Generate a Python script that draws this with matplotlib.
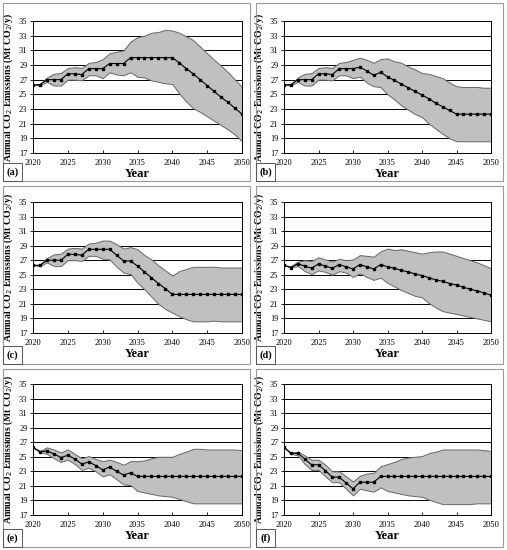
import numpy as np
import matplotlib.pyplot as plt
from matplotlib.patches import Rectangle

years = np.arange(2020, 2051)

mid_a = [26.3, 26.3, 27.0, 27.0, 27.0, 27.8, 27.8, 27.7, 28.5, 28.5, 28.5, 29.2, 29.2, 29.2, 30.0, 30.0,
         30.0, 30.0, 30.0, 30.0, 30.0, 29.3, 28.5, 27.8, 27.0, 26.2, 25.4, 24.6, 23.9, 23.1, 22.3]
up_a = [26.3, 26.4, 27.3, 27.8, 27.9, 28.6, 28.7, 28.6, 29.3, 29.4, 29.8, 30.6, 30.8, 31.0, 32.2, 32.8,
        33.0, 33.4, 33.5, 33.8, 33.7, 33.4, 32.9, 32.4, 31.5, 30.6, 29.7, 28.9, 28.0, 27.0, 26.0]
lo_a = [26.3, 26.2, 26.7, 26.2, 26.2, 27.0, 27.0, 26.9, 27.6, 27.6, 27.2, 28.0, 27.7, 27.6, 28.0, 27.4,
        27.3, 26.9, 26.7, 26.5, 26.4, 25.1, 24.0, 23.1, 22.6, 22.0, 21.4, 20.8, 20.2, 19.5, 18.6]

mid_b = [26.3, 26.3, 27.0, 27.0, 27.0, 27.8, 27.8, 27.7, 28.5, 28.5, 28.5, 28.7, 28.2, 27.6, 28.0, 27.4,
         26.9, 26.4, 25.9, 25.4, 24.9, 24.4, 23.8, 23.3, 22.8, 22.3, 22.3, 22.3, 22.3, 22.3, 22.3]
up_b = [26.3, 26.4, 27.3, 27.8, 27.9, 28.6, 28.7, 28.6, 29.3, 29.4, 29.7, 30.0, 29.7, 29.3, 29.8, 29.9,
        29.5, 29.3, 28.8, 28.4, 27.9, 27.8, 27.5, 27.2, 26.6, 26.1, 26.0, 26.0, 26.0, 25.9, 25.9]
lo_b = [26.3, 26.2, 26.7, 26.2, 26.2, 27.0, 27.0, 26.9, 27.6, 27.6, 27.2, 27.4, 26.6, 26.1, 26.0, 25.0,
        24.3, 23.5, 22.9, 22.3, 21.9, 21.0, 20.3, 19.6, 19.0, 18.6, 18.6, 18.6, 18.6, 18.6, 18.6]

mid_c = [26.3, 26.3, 27.0, 27.0, 27.0, 27.8, 27.8, 27.7, 28.5, 28.5, 28.5, 28.5, 27.7, 26.9, 26.9, 26.2,
         25.4, 24.6, 23.8, 23.1, 22.3, 22.3, 22.3, 22.3, 22.3, 22.3, 22.3, 22.3, 22.3, 22.3, 22.3]
up_c = [26.3, 26.4, 27.3, 27.8, 27.9, 28.6, 28.7, 28.6, 29.3, 29.4, 29.7, 29.7, 29.2, 28.6, 28.8, 28.5,
        27.7, 27.1, 26.3, 25.6, 24.9, 25.5, 25.8, 26.1, 26.1, 26.1, 26.1, 26.0, 26.0, 26.0, 26.0]
lo_c = [26.3, 26.2, 26.7, 26.2, 26.2, 27.0, 27.0, 26.9, 27.6, 27.6, 27.2, 27.1, 26.1, 25.3, 25.1, 23.9,
        23.0, 22.0, 21.0, 20.3, 19.8, 19.3, 18.9, 18.6, 18.6, 18.6, 18.7, 18.6, 18.6, 18.6, 18.6]

mid_d = [26.3, 26.0, 26.5, 26.2, 25.9, 26.5, 26.2, 25.9, 26.4, 26.1, 25.8, 26.4, 26.1, 25.8, 26.4, 26.1,
         25.9, 25.6, 25.4, 25.1, 24.9, 24.6, 24.3, 24.1, 23.8, 23.6, 23.3, 23.0, 22.8, 22.5, 22.2]
up_d = [26.3, 26.2, 26.8, 27.0, 26.9, 27.4, 27.1, 26.8, 27.2, 27.0, 27.1, 27.7, 27.6, 27.5, 28.2, 28.6,
        28.4, 28.5, 28.3, 28.1, 27.9, 28.1, 28.2, 28.2, 27.9, 27.6, 27.3, 27.0, 26.7, 26.3, 25.9]
lo_d = [26.3, 26.0, 26.2, 25.5, 25.1, 25.6, 25.4, 25.0, 25.5, 25.3, 24.7, 25.2, 24.7, 24.3, 24.6, 23.9,
        23.4, 22.9, 22.5, 22.1, 21.9, 21.1, 20.5, 20.0, 19.8, 19.6, 19.4, 19.2, 19.0, 18.8, 18.6]

mid_e = [26.3, 25.7, 25.8, 25.4, 24.9, 25.2, 24.7, 24.0, 24.3, 23.8, 23.2, 23.6, 23.0, 22.5, 22.8, 22.3,
         22.3, 22.3, 22.3, 22.3, 22.3, 22.3, 22.3, 22.3, 22.3, 22.3, 22.3, 22.3, 22.3, 22.3, 22.3]
up_e = [26.3, 25.8, 26.3, 26.0, 25.6, 26.0, 25.4, 24.8, 25.1, 24.7, 24.4, 24.6, 24.3, 23.9, 24.4, 24.4,
        24.5, 24.8, 25.0, 25.0, 25.0, 25.4, 25.7, 26.1, 26.1, 26.0, 26.0, 26.0, 26.0, 26.0, 25.9]
lo_e = [26.3, 25.6, 25.4, 24.8, 24.3, 24.6, 24.0, 23.2, 23.5, 23.0, 22.3, 22.6, 21.9, 21.2, 21.1, 20.3,
        20.1, 19.9, 19.7, 19.6, 19.5, 19.2, 18.9, 18.6, 18.6, 18.6, 18.6, 18.6, 18.6, 18.6, 18.6]

mid_f = [26.3, 25.5, 25.5, 24.7, 23.9, 23.9, 23.1, 22.2, 22.2, 21.4, 20.6, 21.5, 21.5, 21.5, 22.3, 22.3,
         22.3, 22.3, 22.3, 22.3, 22.3, 22.3, 22.3, 22.3, 22.3, 22.3, 22.3, 22.3, 22.3, 22.3, 22.3]
up_f = [26.3, 25.5, 25.7, 25.2, 24.6, 24.6, 23.9, 23.0, 23.0, 22.3, 21.6, 22.4, 22.7, 22.8, 23.7, 24.0,
        24.3, 24.7, 24.9, 25.0, 25.1, 25.5, 25.7, 26.0, 26.0, 26.0, 26.0, 26.0, 26.0, 25.9, 25.8]
lo_f = [26.3, 25.4, 25.2, 24.0, 23.2, 23.2, 22.3, 21.5, 21.5, 20.6, 19.7, 20.6, 20.4, 20.2, 20.8, 20.3,
        20.1, 19.9, 19.7, 19.6, 19.5, 19.1, 18.8, 18.5, 18.5, 18.5, 18.5, 18.5, 18.6, 18.6, 18.6]

labels = ['(a)', '(b)', '(c)', '(d)', '(e)', '(f)']
mids = [mid_a, mid_b, mid_c, mid_d, mid_e, mid_f]
ups = [up_a, up_b, up_c, up_d, up_e, up_f]
los = [lo_a, lo_b, lo_c, lo_d, lo_e, lo_f]

yticks = list(range(17, 36, 2))
xticks = list(range(2020, 2051, 5))

W, H = 507, 550
plt.rcParams['font.family'] = ['Liberation Serif', 'DejaVu Serif']
fig = plt.figure(figsize=(W / 100, H / 100), dpi=100)

ax_left = [33, 284]
ax_right = [242, 491]
ax_top = [21, 202, 384]
ax_bot = [153, 333, 515]
pan_x = [3, 256]
pan_y = [3, 186, 369]
pan_w, pan_h = 247, 178

for i in range(6):
    r, c = divmod(i, 2)
    # panel frame
    fig.patches.append(Rectangle((pan_x[c] / W, 1 - (pan_y[r] + pan_h) / H), pan_w / W, pan_h / H,
                                 transform=fig.transFigure, fill=False, edgecolor='#999999', lw=0.8))
    # label box
    bx, by = pan_x[c], pan_y[r] + pan_h - 18
    fig.patches.append(Rectangle((bx / W, 1 - (by + 18) / H), 19 / W, 18 / H,
                                 transform=fig.transFigure, fill=False, edgecolor='#555555', lw=0.7))
    fig.text((bx + 9.5) / W, 1 - (by + 9) / H, labels[i], ha='center', va='center',
             fontsize=7.5, fontweight='bold')

    l, rr = ax_left[c], ax_right[c]
    t, b = ax_top[r], ax_bot[r]
    ax = fig.add_axes([l / W, 1 - b / H, (rr - l) / W, (b - t) / H])
    ax.fill_between(years, los[i], ups[i], facecolor='#c0c0c0', edgecolor='#666666', lw=0.7, zorder=2)
    ax.plot(years, mids[i], color='black', lw=0.8, marker='s', ms=2, zorder=3)
    for y in yticks[1:]:
        ax.axhline(y, color='black', lw=0.7, zorder=1)
    ax.set_xlim(2020, 2050)
    ax.set_ylim(17, 35)
    ax.set_yticks(yticks)
    ax.set_xticks(xticks)
    ax.tick_params(labelsize=6, length=2, width=0.6, pad=2)
    ax.tick_params(axis='x', direction='in', pad=4)
    for s in ax.spines.values():
        s.set_linewidth(0.7)
    ax.set_ylabel('Annual CO$_2$ Emissions (Mt CO$_2$/y)', fontsize=7, fontweight='bold', labelpad=3)
    ax.set_xlabel('Year', fontsize=9, fontweight='bold', labelpad=1)

fig.savefig('out.png', dpi=100)
